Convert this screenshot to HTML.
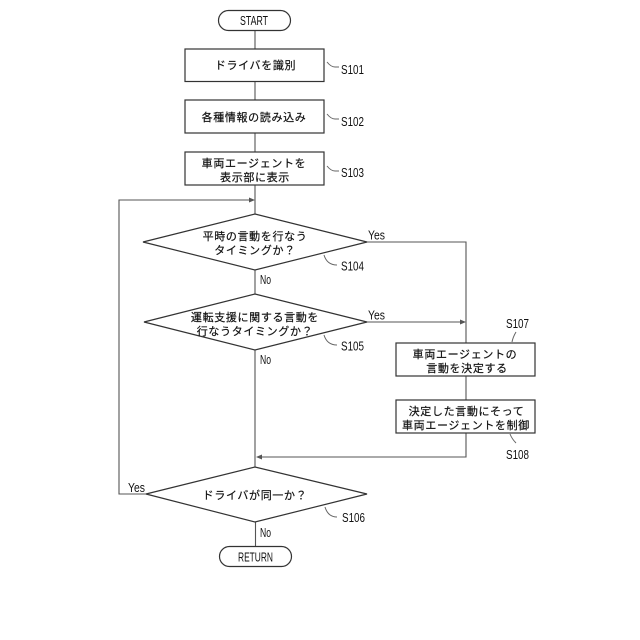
<!DOCTYPE html>
<html>
<head>
<meta charset="utf-8">
<style>
html,body{margin:0;padding:0;background:#fff;width:640px;height:640px;overflow:hidden}
text{font-family:"Liberation Sans","Noto Sans CJK JP",sans-serif;fill:#111}
.j{font-size:11px;text-anchor:middle;letter-spacing:.65px;stroke:#111;stroke-width:.2px}
.l,.s,.t{font-size:13px}
</style>
</head>
<body>
<svg width="640" height="640" viewBox="0 0 640 640" xmlns="http://www.w3.org/2000/svg" style="display:block">
<g fill="none" stroke="#555" stroke-width="1.1">
<path d="M255 30V49M255 81.5V100M255 133V152M255 185V214M255 270V294M255 350V467M255.500 522V546"/>
<path d="M146 494H119V200H253"/>
<path d="M367 242H466V343M367 322H463M466 376V400M466 433V457H259"/>
</g>
<g fill="#555">
<path d="M255 200l-6-2.500v5z"/>
<path d="M466 322l-6-2.500v5z"/>
<path d="M256 457l6-2.500v5z"/>
</g>
<g fill="#fff" stroke="#333" stroke-width="1.2">
<rect x="218.500" y="10.500" width="72" height="20" rx="10"/>
<rect x="185" y="49" width="139" height="32.500"/>
<rect x="185" y="100" width="139" height="33"/>
<rect x="185" y="152" width="139" height="33"/>
<path d="M143 242L255 214L367 242L255 270Z"/>
<path d="M144 322L255 294L367 322L255 350Z"/>
<path d="M146 494L255 467L367 494L255 522Z"/>
<rect x="396" y="343" width="139" height="33"/>
<rect x="396" y="400" width="139" height="33"/>
<rect x="219.500" y="546.500" width="72" height="20" rx="10"/>
</g>
<g fill="none" stroke="#666" stroke-width="1">
<path d="M327 62q4 5 8 5h4"/>
<path d="M327 114q4 5 8 5h4"/>
<path d="M327 166q4 5 8 5h4"/>
<path d="M324 255q3 10 13 10"/>
<path d="M324 335q3 10 13 10"/>
<path d="M325 507q3 10 12 10"/>
<path d="M516 332q-3 5-4 10"/>
<path d="M510 434q2 5 6 9"/>
</g>
<text class="t" x="240" y="25" textLength="28" lengthAdjust="spacingAndGlyphs">START</text>
<text class="j" x="255.500" y="69">ドライバを識別</text>
<text class="j" x="254" y="121">各種情報の読み込み</text>
<text class="j" x="254" y="167">車両エージェントを</text>
<text class="j" x="255" y="181">表示部に表示</text>
<text class="j" x="255" y="240">平時の言動を行なう</text>
<text class="j" x="255" y="254">タイミングか？</text>
<text class="j" x="255" y="321">運転支援に関する言動を</text>
<text class="j" x="255" y="335">行なうタイミングか？</text>
<text class="j" x="255" y="499">ドライバが同一か？</text>
<text class="j" x="465" y="358">車両エージェントの</text>
<text class="j" x="467" y="372">言動を決定する</text>
<text class="j" x="466.500" y="415">決定した言動にそって</text>
<text class="j" x="466" y="429">車両エージェントを制御</text>
<text class="t" x="238" y="561.500" textLength="35" lengthAdjust="spacingAndGlyphs">RETURN</text>
<text class="l" x="368" y="239.500" textLength="17" lengthAdjust="spacingAndGlyphs">Yes</text>
<text class="l" x="368" y="319.500" textLength="17" lengthAdjust="spacingAndGlyphs">Yes</text>
<text class="l" x="260" y="284" textLength="11" lengthAdjust="spacingAndGlyphs">No</text>
<text class="l" x="260" y="364" textLength="11" lengthAdjust="spacingAndGlyphs">No</text>
<text class="l" x="128" y="492" textLength="17" lengthAdjust="spacingAndGlyphs">Yes</text>
<text class="l" x="260" y="537" textLength="11" lengthAdjust="spacingAndGlyphs">No</text>
<text class="s" x="341" y="74" textLength="23" lengthAdjust="spacingAndGlyphs">S101</text>
<text class="s" x="341" y="126" textLength="23" lengthAdjust="spacingAndGlyphs">S102</text>
<text class="s" x="341" y="177" textLength="23" lengthAdjust="spacingAndGlyphs">S103</text>
<text class="s" x="341" y="270.500" textLength="23" lengthAdjust="spacingAndGlyphs">S104</text>
<text class="s" x="341" y="350.500" textLength="23" lengthAdjust="spacingAndGlyphs">S105</text>
<text class="s" x="342" y="522" textLength="23" lengthAdjust="spacingAndGlyphs">S106</text>
<text class="s" x="506" y="328" textLength="23" lengthAdjust="spacingAndGlyphs">S107</text>
<text class="s" x="506" y="459" textLength="23" lengthAdjust="spacingAndGlyphs">S108</text>
</svg>
</body>
</html>
